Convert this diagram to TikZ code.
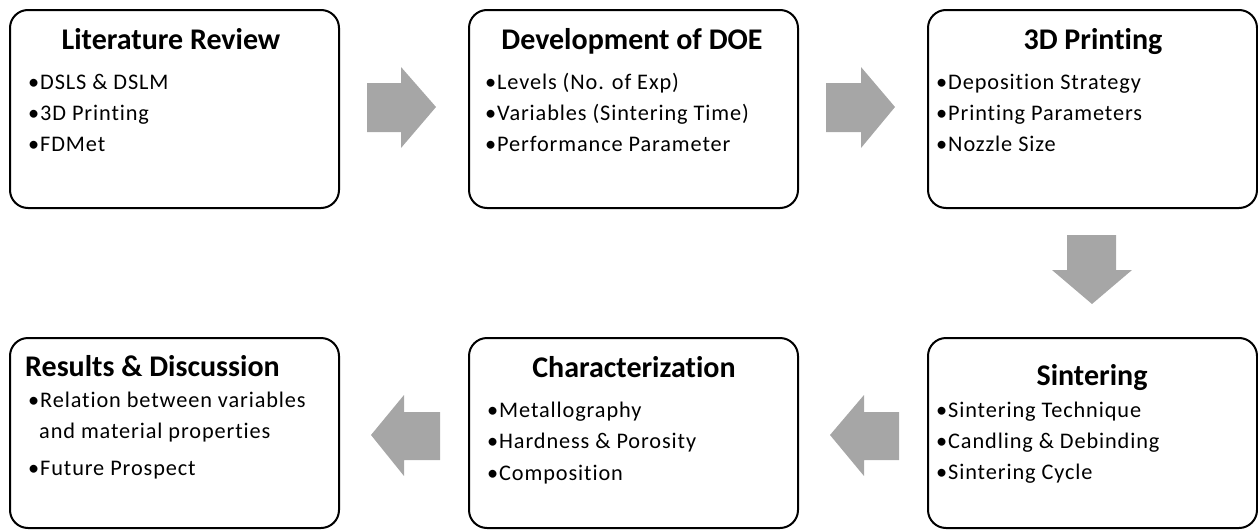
\documentclass[tikz,border=0pt]{standalone}
\usepackage{fontspec}
\setmainfont{Carlito}[Ligatures=NoCommon]
\newfontfamily\itmfont[LetterSpace=4,Ligatures=NoCommon]{Carlito}
\begin{document}
\begin{tikzpicture}[x=1pt,y=-1pt,
  box/.style={draw=black,line width=2pt,rounded corners=18pt,anchor=north west,minimum width=329pt,minimum height=198pt,inner sep=0pt},
  boxlow/.style={box,minimum height=190pt},
  ttl/.style={anchor=base,inner sep=0pt,font=\fontsize{30}{34}\selectfont\bfseries},
  itm/.style={anchor=base west,inner sep=0pt,font=\itmfont\fontsize{22.3}{26}\selectfont},
  blk/.style={fill=arrowgray,draw=none}]
\definecolor{arrowgray}{HTML}{A6A6A6}
\useasboundingbox (0,0) rectangle (1258,530);
% boxes
\node[box] (b1) at (9,9) {};
\node[box] (b2) at (468,9) {};
\node[box] (b3) at (927,9) {};
\node[boxlow] (b4) at (9,337) {};
\node[boxlow] (b5) at (468,337) {};
\node[boxlow] (b6) at (927,337) {};
% box 1
\node[ttl] (t1) at (171,49) {Literature Review};
\node[itm] (l11) at (28,89) {•DSLS \& DSLM};
\node[itm] (l12) at (28,120) {•3D Printing};
\node[itm] (l13) at (28,151) {•FDMet};
% box 2
\node[ttl] (t2) at (632,49) {Development of DOE};
\node[itm] (l21) at (485,89) {•Levels (No. of Exp)};
\node[itm] (l22) at (485,120) {•Variables (Sintering Time)};
\node[itm] (l23) at (485,151) {•Performance Parameter};
% box 3
\node[ttl] (t3) at (1093,49) {3D Printing};
\node[itm] (l31) at (936,89) {•Deposition Strategy};
\node[itm] (l32) at (936,120) {•Printing Parameters};
\node[itm] (l33) at (936,151) {•Nozzle Size};
% box 4
\node[ttl,anchor=base west] (t4) at (25,376) {Results \& Discussion};
\node[itm] (l41) at (28,407) {•Relation between variables};
\node[itm] (l42) at (39,438) {and material properties};
\node[itm] (l43) at (28,475) {•Future Prospect};
% box 5
\node[ttl] (t5) at (634,377) {Characterization};
\node[itm] (l51) at (487,417) {•Metallography};
\node[itm] (l52) at (487,448) {•Hardness \& Porosity};
\node[itm] (l53) at (487,480) {•Composition};
% box 6
\node[ttl] (t6) at (1092,385) {Sintering};
\node[itm] (l61) at (936,417) {•Sintering Technique};
\node[itm] (l62) at (936,448) {•Candling \& Debinding};
\node[itm] (l63) at (936,479) {•Sintering Cycle};
% block arrows
\fill[blk] (367,83) -- (401,83) -- (401,67) -- (436,107) -- (401,148) -- (401,132) -- (367,132) -- cycle;
\fill[blk] (826,83) -- (861,83) -- (861,67) -- (895,107) -- (861,148) -- (861,132) -- (826,132) -- cycle;
\fill[blk] (1067,235) -- (1116,235) -- (1116,270) -- (1132,270) -- (1092,304) -- (1052,270) -- (1067,270) -- cycle;
\fill[blk] (899,412) -- (864,412) -- (864,395) -- (830,435) -- (864,476) -- (864,460) -- (899,460) -- cycle;
\fill[blk] (440,412) -- (404,412) -- (404,395) -- (371,435) -- (404,476) -- (404,460) -- (440,460) -- cycle;
\end{tikzpicture}
\end{document}
